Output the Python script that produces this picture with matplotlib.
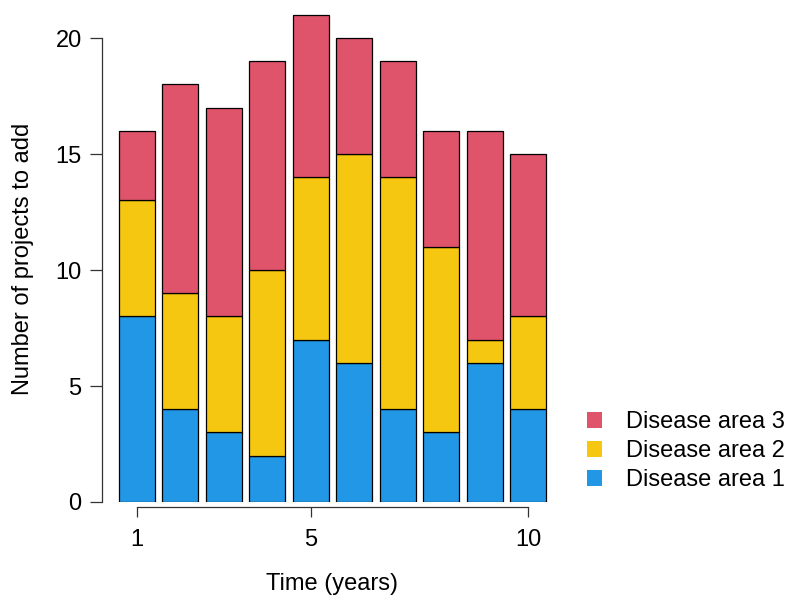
import matplotlib
matplotlib.use('Agg')
import matplotlib.pyplot as plt
from matplotlib.patches import Patch
import numpy as np

# stacked counts per year
years = np.arange(1, 11)
area1 = np.array([8, 4, 3, 2, 7, 6, 4, 3, 6, 4])
area2 = np.array([5, 5, 5, 8, 7, 9, 10, 8, 1, 4])
area3 = np.array([3, 9, 9, 9, 7, 5, 5, 5, 9, 7])
labels = ['Disease area 1', 'Disease area 2', 'Disease area 3']
colors = ['#2297E6', '#F5C710', '#DF536B']
xticks = [1, 5, 10]
yticks = [0, 5, 10, 15, 20]

plt.rcParams['font.family'] = ['Liberation Sans', 'DejaVu Sans']

fig = plt.figure(figsize=(7.86, 6.0), dpi=100)
ax = fig.add_axes([110.7 / 786, 98 / 600, 443.7 / 786, 491.8 / 600])

bottom = np.zeros(len(years))
for vals, col in zip([area1, area2, area3], colors):
    ax.bar(years, vals, bottom=bottom, width=0.83, color=col,
           edgecolor='black', linewidth=0.9)
    bottom = bottom + vals

ax.set_xlim(0.4, 10.6)
ax.set_ylim(0, 21.2)

for s in ['top', 'right']:
    ax.spines[s].set_visible(False)
ax.spines['left'].set_position(('outward', 6.5))
ax.spines['bottom'].set_position(('outward', 3.6))
ax.spines['left'].set_bounds(0, 20)
ax.spines['bottom'].set_bounds(1, 10)
for s in ['left', 'bottom']:
    ax.spines[s].set_color('#333333')
    ax.spines[s].set_linewidth(0.9)

ax.set_xticks(xticks)
ax.set_yticks(yticks)
ax.tick_params(axis='both', labelsize=17, color='#333333', width=0.9)
ax.tick_params(axis='y', length=8.4, pad=6)
ax.tick_params(axis='x', length=7.2, pad=9)

fig.text(23 / 786, 1 - 259 / 600, 'Number of projects to add', rotation=90,
         ha='center', va='center', fontsize=17)
fig.text(332 / 786, 1 - 584 / 600, 'Time (years)', ha='center', va='center',
         fontsize=17)

handles = [Patch(facecolor=c, edgecolor='none') for c in colors[::-1]]
fig.legend(handles, labels[::-1], loc='center left',
           bbox_to_anchor=(587 / 786, 1 - 451 / 600), frameon=False,
           fontsize=17, handlelength=0.65, handleheight=0.65,
           handletextpad=1.0, labelspacing=0.3, borderpad=0,
           borderaxespad=0)

fig.savefig('out.png', dpi=100)
